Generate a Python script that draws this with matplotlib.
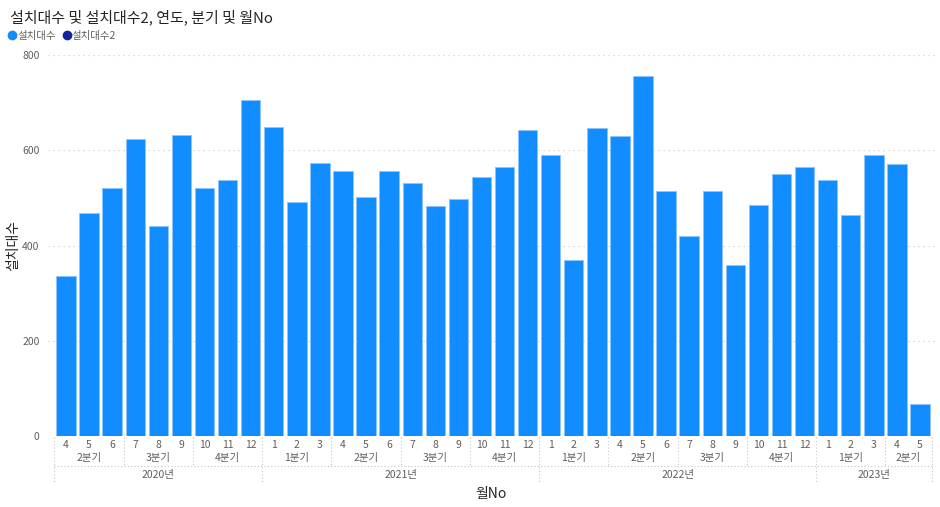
import matplotlib
matplotlib.use("Agg")
import matplotlib.pyplot as plt
import matplotlib.transforms as mtransforms
from matplotlib.lines import Line2D

plt.rcParams['font.family'] = ['Noto Sans CJK KR', 'DejaVu Sans']

# data
months = [4, 5, 6, 7, 8, 9, 10, 11, 12,
          1, 2, 3, 4, 5, 6, 7, 8, 9, 10, 11, 12,
          1, 2, 3, 4, 5, 6, 7, 8, 9, 10, 11, 12,
          1, 2, 3, 4, 5]
years = [2020] * 9 + [2021] * 12 + [2022] * 12 + [2023] * 5
counts = [337, 469, 520, 623, 441, 632, 520, 537, 705,
          648, 491, 573, 556, 501, 556, 532, 483, 498, 544, 565, 642,
          590, 369, 647, 630, 756, 514, 420, 515, 359, 486, 551, 564,
          537, 464, 589, 571, 67]
y_ticks = [0, 200, 400, 600, 800]

bar_color = '#118DFF'
series2_color = '#12239E'
text_color = '#605E5C'
title_color = '#252423'
sep_color = '#C8C6C4'

fig = plt.figure(figsize=(9.4, 5.07), dpi=100)
ax = fig.add_axes([48 / 940, 1 - 436 / 507, (935 - 48) / 940, 381 / 507])

x = list(range(len(counts)))
ax.bar(x, counts, width=0.84, color=bar_color, edgecolor='#8CC4FF', linewidth=0.6, zorder=3)

ax.set_ylim(0, 800)
ax.set_xlim(-0.78, 37.65)
ax.set_yticks(y_ticks)
ax.set_yticklabels([str(t) for t in y_ticks], fontsize=7.5, color=text_color)
ax.tick_params(axis='y', length=0, pad=6)
ax.grid(axis='y', color='#D0D0D0', linestyle=(0, (1, 3)), linewidth=0.9, zorder=0)
ax.set_xticks([])
for s in ax.spines.values():
    s.set_visible(False)

# multi-level x axis: month / quarter / year
trans = mtransforms.blended_transform_factory(ax.transData, ax.transAxes)
for i, m in enumerate(months):
    ax.text(i, -0.024, str(m), transform=trans, ha='center', va='center',
            fontsize=7.5, color=text_color)

quarters = [(m - 1) // 3 + 1 for m in months]
groups = []
for i, (yr, q) in enumerate(zip(years, quarters)):
    if groups and groups[-1][0] == (yr, q):
        groups[-1][2] = i
    else:
        groups.append([(yr, q), i, i])
for (yr, q), a, b in groups:
    ax.text((a + b) / 2, -0.058, f'{q}분기', transform=trans, ha='center', va='center',
            fontsize=7.5, color=text_color)

year_groups = []
for i, yr in enumerate(years):
    if year_groups and year_groups[-1][0] == yr:
        year_groups[-1][2] = i
    else:
        year_groups.append([yr, i, i])
for yr, a, b in year_groups:
    ax.text((a + b) / 2, -0.102, f'{yr}년', transform=trans, ha='center', va='center',
            fontsize=7.5, color=text_color)

line_kw = dict(transform=trans, color=sep_color, linestyle=(0, (1, 2)), linewidth=0.8, clip_on=False)
year_edges = set([a - 0.5 for _, a, _ in year_groups] + [len(counts) - 0.5])
for (yr, q), a, b in groups:
    if a - 0.5 not in year_edges:
        ax.add_line(Line2D([a - 0.5, a - 0.5], [-0.003, -0.077], **line_kw))
for e in year_edges:
    ax.add_line(Line2D([e, e], [-0.003, -0.122], **line_kw))
ax.add_line(Line2D([-0.5, len(counts) - 0.5], [-0.079, -0.079], **line_kw))

ax.set_xlabel('월No', fontsize=10, color=title_color, labelpad=0)
ax.xaxis.set_label_coords(0.5, -0.135)
ax.set_ylabel('설치대수', fontsize=10, color=title_color, labelpad=4)
ax.yaxis.set_label_coords(-0.031, 0.5)

fig.text(10 / 940, 1 - 17 / 507, '설치대수 및 설치대수2, 연도, 분기 및 월No', fontsize=10.8,
         color=title_color, ha='left', va='center')

handles = [Line2D([], [], marker='o', linestyle='', color=bar_color, markersize=6),
           Line2D([], [], marker='o', linestyle='', color=series2_color, markersize=6)]
leg = fig.legend(handles, ['설치대수', '설치대수2'], loc='center left', ncol=2,
                 bbox_to_anchor=(3 / 940, 1 - 36 / 507), frameon=False, fontsize=7.5,
                 handlelength=0.8, handletextpad=0.1, columnspacing=0.6, borderpad=0)
for t in leg.get_texts():
    t.set_color(text_color)

fig.savefig('out.png', dpi=100)
